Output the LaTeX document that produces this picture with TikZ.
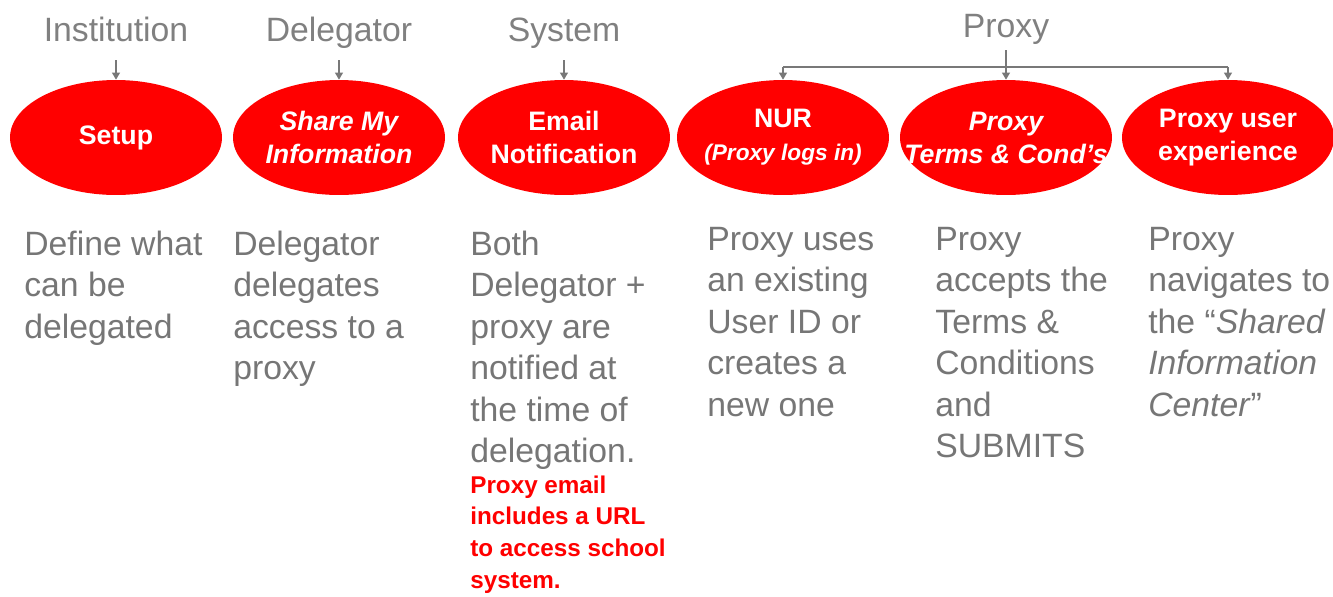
\documentclass[tikz,border=0pt]{standalone}
\usepackage{fontspec}
\setmainfont{Liberation Sans}
\usetikzlibrary{shapes.geometric,arrows.meta}
\definecolor{txtgray}{RGB}{118,118,118}
\definecolor{hdgray}{RGB}{128,128,128}
\definecolor{arrgray}{RGB}{120,120,120}

\begin{document}
\begin{tikzpicture}[x=0.02cm, y=-0.02cm,
  oval/.style={ellipse, fill=red, text=white, minimum width=4.24cm, minimum height=2.3cm, inner xsep=-1cm, inner ysep=-0.5cm, align=center, font=\fontsize{15.2}{18.8}\selectfont\bfseries},
  head/.style={anchor=base, text=hdgray, inner sep=0pt, font=\fontsize{19.2}{23.6}\selectfont},
  body/.style={anchor=base west, align=left, text=txtgray, inner sep=0pt, font=\fontsize{19.2}{23.6}\selectfont},
  note/.style={anchor=base west, align=left, text=red, inner sep=0pt, font=\fontsize{13.8}{18}\selectfont\bfseries},
  arr/.style={-{Triangle[length=4pt, width=4.5pt]}, line width=0.75pt, arrgray}]
\useasboundingbox (0,0) rectangle (1333,596);

\node [oval] (setup) at (116, 137.5) {Setup};
\node [oval] (share) at (339, 137.5) {\itshape Share My\\\itshape Information};
\node [oval] (email) at (564, 137.5) {Email\\Notification};
\node [oval] (nur) at (783, 137.5) {NUR\\{\fontsize{12.9}{15}\selectfont\itshape (Proxy logs in)}};
\node [oval] (terms) at (1006, 137.5) {\itshape Proxy\\\itshape Terms \& Cond’s};
\node [oval] (user) at (1228, 137.5) {Proxy user\\experience};

\node [head] (inst) at (116, 41) {Institution};
\node [head] (deleg) at (339, 41) {Delegator};
\node [head] (system) at (564, 41) {System};
\node [head] (proxy) at (1006, 37) {Proxy};

\draw [arr, shorten <=0.38cm] (inst.base) -- (setup.north);
\draw [arr, shorten <=0.38cm] (deleg.base) -- (share.north);
\draw [arr, shorten <=0.38cm] (system.base) -- (email.north);

\coordinate (bar) at (1006, 67);
\draw [arr, shorten <=0.26cm] (proxy.base) -- (terms.north);
\draw [line width=0.75pt, arrgray] (nur.north |- bar) -- (user.north |- bar);
\draw [arr] (nur.north |- bar) -- (nur.north);
\draw [arr] (user.north |- bar) -- (user.north);

% base anchor sits on the last line
\node [body] (setuptxt) at (24, 338) {Define what\\can be\\delegated};
\node [body] (sharetxt) at (233, 379.5) {Delegator\\delegates\\access to a\\proxy};
\node [body] (emailtxt) at (470, 462.5) {Both\\Delegator +\\proxy are\\notified at\\the time of\\delegation.};
\node [note] (emailnote) at (470, 588) {Proxy email\\includes a URL\\to access school\\system.};
\node [body] (nurtxt) at (707, 416) {Proxy uses\\an existing\\User ID or\\creates a\\new one};
\node [body] (termstxt) at (935, 457.5) {Proxy\\accepts the\\Terms \&\\Conditions\\and\\SUBMITS};
\node [body] (usertxt) at (1148, 416) {Proxy\\navigates to\\the “\textit{Shared}\\\textit{Information}\\\textit{Center}”};
\end{tikzpicture}
\end{document}
